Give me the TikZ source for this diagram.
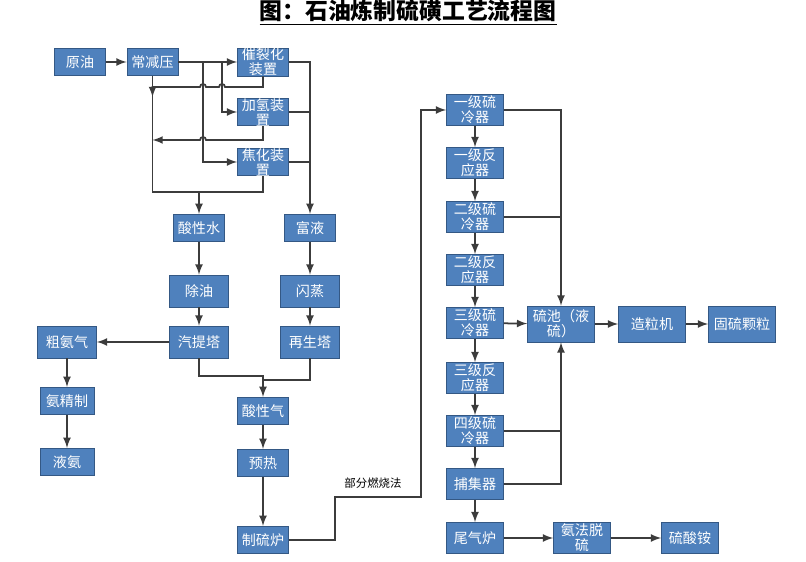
\documentclass[tikz,border=0pt]{standalone}
\usepackage{fontspec}
\setmainfont{Noto Sans CJK SC}
\usepackage{tikz}
\usepackage{xcolor}
\usetikzlibrary{arrows}
\definecolor{boxblue}{RGB}{79,129,189}
\definecolor{boxedge}{RGB}{52,88,132}
\definecolor{linegray}{RGB}{60,60,60}

\begin{document}
\begin{tikzpicture}[>=latex,
  blk/.style={draw=boxedge, fill=boxblue, text=white, align=center, inner sep=0pt,
    font=\fontsize{8}{8.6}\selectfont, minimum width=1.02cm, minimum height=0.55cm},
  blkm/.style={blk, minimum width=1.18cm, minimum height=0.64cm},
  blkr/.style={blk, minimum width=1.14cm, minimum height=0.62cm},
  blkw/.style={blk, minimum width=1.34cm, minimum height=0.72cm},
  ln/.style={linegray, line width=1pt}]
\useasboundingbox (0,0) rectangle (16.12,11.24);
% заголовок
\node (title) at (8.16,10.98) {\fontsize{13}{14}\selectfont\bfseries\underline{图：石油炼制硫磺工艺流程图}};
% блоки слева
\node [blk] (yuanyou) at (1.60,10.00) {原油};
\node [blk] (changjian) at (3.05,10.00) {常减压};
\node [blk] (cuilie) at (5.26,10.00) {催裂化\\装置};
\node [blk] (jiaqing) at (5.26,9.00) {加氢装\\置};
\node [blk] (jiaohua) at (5.26,8.00) {焦化装\\置};
\node [blk] (suanshui) at (3.98,6.68) {酸性水};
\node [blk] (fuye) at (6.20,6.68) {富液};
\node [blkm] (chuyou) at (3.98,5.42) {除油};
\node [blkm] (shanzheng) at (6.20,5.42) {闪蒸};
\node [blkm] (qiti) at (3.98,4.40) {汽提塔};
\node [blkm] (zaisheng) at (6.20,4.40) {再生塔};
\node [blkm] (cuan) at (1.34,4.40) {粗氨气};
\node [blk, minimum width=1.08cm] (anjing) at (1.34,3.22) {氨精制};
\node [blk, minimum width=1.08cm] (yean) at (1.34,2.00) {液氨};
\node [blk] (suanqi) at (5.26,3.02) {酸性气};
\node [blk] (yure) at (5.26,1.98) {预热};
\node [blk] (zhiliu) at (5.26,0.44) {制硫炉};
% блоки справа
\node [blkr] (l1) at (9.50,9.04) {一级硫\\冷器};
\node [blkr] (r1) at (9.50,7.98) {一级反\\应器};
\node [blkr] (l2) at (9.50,6.90) {二级硫\\冷器};
\node [blkr] (r2) at (9.50,5.84) {二级反\\应器};
\node [blkr] (l3) at (9.50,4.78) {三级硫\\冷器};
\node [blkr] (r3) at (9.50,3.68) {三级反\\应器};
\node [blkr] (l4) at (9.50,2.62) {四级硫\\冷器};
\node [blkr] (buji) at (9.50,1.56) {捕集器};
\node [blkr] (weiqi) at (9.50,0.48) {尾气炉};
\node [blkw, text width=1.22cm] (liuchi) at (11.22,4.76) {硫池（液\\硫）};
\node [blkw] (zaoli) at (13.04,4.76) {造粒机};
\node [blkw] (guliu) at (14.84,4.76) {固硫颗粒};
\node [blkr] (anfa) at (11.64,0.48) {氨法脱\\硫};
\node [blkr] (liusuan) at (13.80,0.48) {硫酸铵};
% точки
\coordinate (b1) at (4.06,10.00);
\coordinate (b2) at (4.44,10.00);
\coordinate (j3) at (3.05,7.40);
\coordinate (m1) at (5.26,3.72);
\coordinate (m2) at (5.26,3.64);
\coordinate (p1) at (6.70,1.30);
\coordinate (p2) at (8.42,1.30);
% стрелки
\draw [->, ln] (yuanyou) -- (changjian);
\draw [->, ln] (changjian) -- (cuilie);
\draw [->, ln] (b2) |- (jiaqing.west);
\draw [->, ln] (b1) |- (jiaohua.west);
\draw [->, ln] (cuilie.south) |- (4.50,9.50) arc [start angle=0, end angle=180, radius=0.06]
  -- (4.12,9.50) arc [start angle=0, end angle=180, radius=0.06] -- (3.05,9.50) -- (3.05,9.30);
\draw [->, ln] (jiaqing.south) |- (4.12,8.44) arc [start angle=0, end angle=180, radius=0.06] -- (3.05,8.44);
\draw [ln] (changjian.south) |- (jiaohua.south |- j3) -- (jiaohua.south);
\draw [->, ln] (suanshui.north |- j3) -- (suanshui.north);
\draw [->, ln] (cuilie.east) -| (fuye.north);
\draw [ln] (jiaqing.east) -- (jiaqing.east -| fuye.north);
\draw [ln] (jiaohua.east) -- (jiaohua.east -| fuye.north);
\draw [->, ln] (suanshui) -- (chuyou);
\draw [->, ln] (chuyou) -- (qiti);
\draw [->, ln] (fuye) -- (shanzheng);
\draw [->, ln] (shanzheng) -- (zaisheng);
\draw [->, ln] (qiti) -- (cuan);
\draw [->, ln] (cuan) -- (anjing);
\draw [->, ln] (anjing) -- (yean);
\draw [->, ln] (qiti.south) |- (m1) -- (suanqi.north);
\draw [ln] (zaisheng.south) |- (m2);
\draw [->, ln] (suanqi) -- (yure);
\draw [->, ln] (yure) -- (zhiliu);
\draw [->, ln] (zhiliu.east) -| (p1) -- (p2) |- (l1.west);
\draw [->, ln] (l1) -- (r1);
\draw [->, ln] (r1) -- (l2);
\draw [->, ln] (l2) -- (r2);
\draw [->, ln] (r2) -- (l3);
\draw [->, ln] (l3) -- (r3);
\draw [->, ln] (r3) -- (l4);
\draw [->, ln] (l4) -- (buji);
\draw [->, ln] (buji) -- (weiqi);
\draw [->, ln] (l1.east) -| (liuchi.north);
\draw [ln] (l2.east) -- (l2.east -| liuchi.north);
\draw [->, ln] (l3) -- (liuchi);
\draw [->, ln] (buji.east) -| (liuchi.south);
\draw [ln] (l4.east) -- (l4.east -| liuchi.south);
\draw [->, ln] (liuchi) -- (zaoli);
\draw [->, ln] (zaoli) -- (guliu);
\draw [->, ln] (weiqi) -- (anfa);
\draw [->, ln] (anfa) -- (liusuan);
% подписи
\node [font=\fontsize{6.5}{8}\selectfont] (fenbu) at (7.46,1.58) {部分燃烧法};
\end{tikzpicture}
\end{document}
